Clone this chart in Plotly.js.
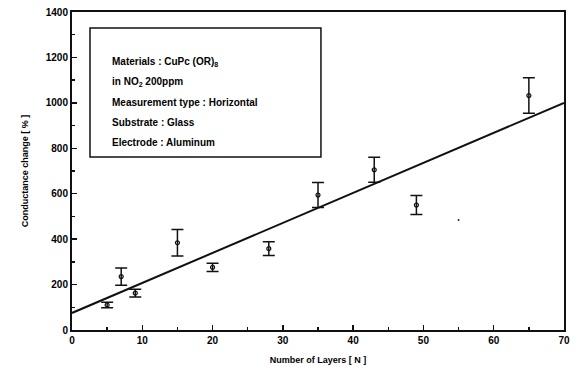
<!DOCTYPE html>
<html>
<head>
<meta charset="utf-8">
<script src="https://cdn.plot.ly/plotly-3.0.1.min.js"></script>
<style>html,body{margin:0;padding:0;background:#fff;}#chart{width:583px;height:372px;}</style>
</head>
<body>
<div id="chart"></div>
<script>
// Data
var layers = [5, 7, 9, 15, 20, 28, 35, 43, 49, 65];
var conductance = [110, 235, 162, 384, 276, 358, 594, 705, 550, 1032];
var errors = [12, 38, 17, 58, 18, 30, 55, 55, 42, 78];
var strayX = [55];
var strayY = [484];
var fitX = [0, 70];
var fitY = [75, 1000];
var xTicks = [0, 10, 20, 30, 40, 50, 60, 70];
var yTicks = [0, 200, 400, 600, 800, 1000, 1200, 1400];
var infoLines = [
  "Materials : CuPc (OR)<sub>8</sub>",
  "in NO<sub>2</sub> 200ppm",
  "Measurement type : Horizontal",
  "Substrate : Glass",
  "Electrode : Aluminum"
];

var FONT = "Liberation Sans Narrow, Liberation Sans, Arial, sans-serif";

var traces = [
  {
    x: fitX, y: fitY, mode: "lines", type: "scatter",
    line: {color: "#111", width: 2}, hoverinfo: "skip"
  },
  {
    x: layers, y: conductance, mode: "markers", type: "scatter",
    marker: {symbol: "circle-open", size: 4, color: "#111", line: {width: 1.2, color: "#111"}},
    error_y: {type: "data", array: errors, visible: true, color: "#111", thickness: 1.5, width: 6}
  },
  {
    x: strayX, y: strayY, mode: "markers", type: "scatter",
    marker: {symbol: "circle", size: 2, color: "#222"}
  }
];

var lineY = [0.843, 0.780, 0.714, 0.651, 0.591];
var annotations = infoLines.map(function (t, i) {
  return {
    xref: "paper", yref: "paper", x: 0.0772, y: lineY[i],
    xanchor: "left", yanchor: "middle", showarrow: false, align: "left",
    text: "<b>" + t + "</b>",
    font: {family: FONT, size: 10, color: "#000", weight: "bold"}
  };
});

var layout = {
  width: 583, height: 372,
  margin: {l: 72, r: 19, t: 12, b: 42},
  paper_bgcolor: "#fff", plot_bgcolor: "#fff",
  showlegend: false,
  xaxis: {
    range: [0, 70], tickvals: xTicks, ticktext: xTicks.map(String),
    ticks: "inside", ticklen: 5, tickwidth: 1.5, tickcolor: "#111",
    minor: {dtick: 5, tick0: 0, ticks: "inside", ticklen: 3, tickcolor: "#111"},
    showgrid: false, zeroline: false,
    showline: true, linecolor: "#111", linewidth: 2, mirror: true,
    tickfont: {family: FONT, size: 10, color: "#000", weight: "bold"},
    title: {text: "Number of Layers [ N ]", standoff: 12,
            font: {family: FONT, size: 9, color: "#000", weight: "bold"}}
  },
  yaxis: {
    range: [0, 1400], tickvals: yTicks, ticktext: yTicks.map(String),
    ticks: "inside", ticklen: 5, tickwidth: 1.5, tickcolor: "#111",
    minor: {dtick: 100, tick0: 0, ticks: "inside", ticklen: 3, tickcolor: "#111"},
    showgrid: false, zeroline: false,
    showline: true, linecolor: "#111", linewidth: 2, mirror: true,
    tickfont: {family: FONT, size: 10, color: "#000", weight: "bold"},
    title: {text: "Conductance change [ % ]", standoff: 16,
            font: {family: FONT, size: 9, color: "#000", weight: "bold"}}
  },
  shapes: [{
    type: "rect", xref: "paper", yref: "paper",
    x0: 0.0366, x1: 0.506, y0: 0.544, y1: 0.950,
    line: {color: "#111", width: 1.5}, fillcolor: "rgba(0,0,0,0)"
  }],
  annotations: annotations
};

Plotly.newPlot("chart", traces, layout, {displayModeBar: false, staticPlot: true});
</script>
</body>
</html>
